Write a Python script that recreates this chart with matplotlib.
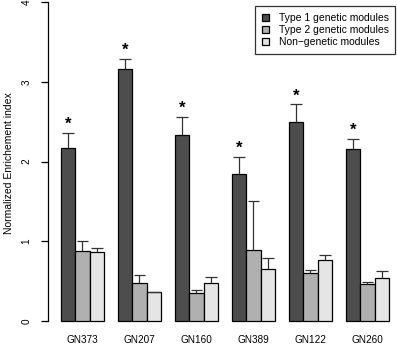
import numpy as np
import matplotlib
matplotlib.use("Agg")
import matplotlib.pyplot as plt

# ================= Data =================
groups = ['GN373', 'GN207', 'GN160', 'GN389', 'GN122', 'GN260']
series = ['Type 1 genetic modules', 'Type 2 genetic modules', 'Non\u2212genetic modules']

type1 = [2.17, 3.16, 2.34, 1.84, 2.50, 2.16]
type1_err = [2.36, 3.29, 2.56, 2.06, 2.72, 2.29]
type2 = [0.88, 0.48, 0.35, 0.89, 0.60, 0.46]
type2_err = [1.00, 0.57, 0.39, 1.50, 0.64, 0.49]
nongen = [0.86, 0.36, 0.47, 0.65, 0.76, 0.54]
nongen_err = [0.92, 0.36, 0.55, 0.79, 0.83, 0.62]
# =========================================

colors = ['#4d4d4d', '#b0b0b0', '#e5e5e5']
plt.rcParams['font.family'] = ['Liberation Sans', 'DejaVu Sans']

W, H = 397, 346
fig = plt.figure(figsize=(W / 100, H / 100), dpi=100)
ax = fig.add_axes([48 / W, (H - 326) / H, (W - 48) / W, 326 / H])

values = [type1, type2, nongen]
errs = [type1_err, type2_err, nongen_err]
base = np.arange(len(groups)) * 4 + 1.5

for k in range(3):
    x = base + k
    ax.bar(x, values[k], width=1.0, color=colors[k], edgecolor='black',
           linewidth=0.9, label=series[k], zorder=2)
    ax.vlines(x, values[k], errs[k], color='#333333', linewidth=0.9, zorder=3)
    ax.hlines(errs[k], x - 0.42, x + 0.42, color='#333333', linewidth=0.9, zorder=3)

# significance stars above type 1 bars
for xi, top in zip(base, type1_err):
    ax.text(xi, top + 0.01, '*', ha='center', va='bottom', fontsize=12,
            fontweight='bold')

ax.set_xlim(0.08, 0.08 + (W - 48) / 14.25)
ax.set_ylim(-(326 - 320.8) / 79.6, 4 + 2.4 / 79.6)

for s in ['top', 'right', 'bottom']:
    ax.spines[s].set_visible(False)
ax.spines['left'].set_bounds(0, 4)
ax.spines['left'].set_linewidth(0.9)
ax.set_yticks([0, 1, 2, 3, 4])
ax.set_yticklabels(['0', '1', '2', '3', '4'], rotation=90, va='center', fontsize=7.2)
ax.tick_params(axis='y', length=5, width=0.9, pad=7)
ax.set_xticks(base + 1)
ax.set_xticklabels(groups, fontsize=7.2)
ax.tick_params(axis='x', length=0, pad=6.5)
ax.set_ylabel('Normalized Enrichement index', fontsize=7.5, labelpad=5)

leg = ax.legend(loc='upper right', bbox_to_anchor=(1.01, 0.997), fontsize=7.5,
                frameon=True, fancybox=False, edgecolor='black',
                handlelength=0.7, handleheight=0.7, handletextpad=0.9,
                labelspacing=0.2, borderpad=0.65)
leg.get_frame().set_linewidth(0.9)

fig.savefig('out.png', dpi=100)
